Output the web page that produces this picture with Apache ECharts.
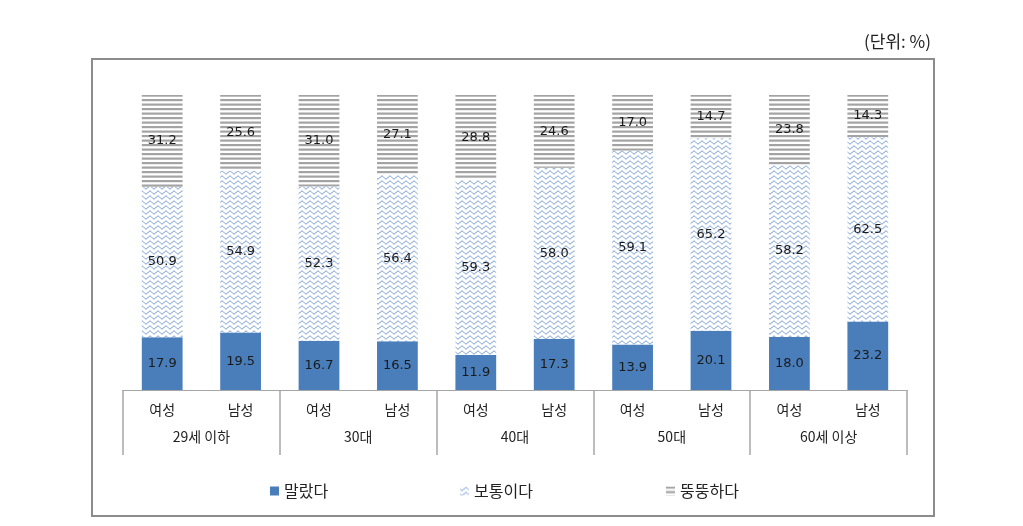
<!DOCTYPE html>
<html><head><meta charset="utf-8">
<script src="https://cdn.jsdelivr.net/npm/echarts@6/dist/echarts.min.js"></script>
<style>html,body{margin:0;padding:0;background:#fff}#c{width:1023px;height:526px}</style>
</head><body><div id="c"></div>
<script>
const genders = ['여성','남성','여성','남성','여성','남성','여성','남성','여성','남성'];
const groups = ['29세 이하','30대','40대','50대','60세 이상'];
const seriesNames = ['말랐다','보통이다','뚱뚱하다'];
const thin = [17.9, 19.5, 16.7, 16.5, 11.9, 17.3, 13.9, 20.1, 18.0, 23.2];
const normal = [50.9, 54.9, 52.3, 56.4, 59.3, 58.0, 59.1, 65.2, 58.2, 62.5];
const fat = [31.2, 25.6, 31.0, 27.1, 28.8, 24.6, 17.0, 14.7, 23.8, 14.3];
const unitText = '(단위: %)';

function wavePattern(){
  const c = document.createElement('canvas');
  c.width = 8; c.height = 5;
  const g = c.getContext('2d');
  g.fillStyle = '#ffffff'; g.fillRect(0,0,8,5);
  g.strokeStyle = '#5f8dcf'; g.lineWidth = 1;
  g.beginPath();
  for (let x = 0; x <= 8; x += 0.5) {
    const y = 2.5 + 1.4 * Math.sin(x / 8 * Math.PI * 2);
    if (x === 0) g.moveTo(x, y); else g.lineTo(x, y);
  }
  g.stroke();
  return c;
}
function stripePattern(){
  const c = document.createElement('canvas');
  c.width = 8; c.height = 9;
  const g = c.getContext('2d');
  g.fillStyle = '#ffffff'; g.fillRect(0,0,8,9);
  g.fillStyle = '#a3a3a3';
  g.fillRect(0,0,8,2.2);
  g.fillRect(0,4.5,8,2.2);
  return c;
}
const colors = ['#4a7ebb', {image: wavePattern(), repeat:'repeat'}, {image: stripePattern(), repeat:'repeat'}];
const vals = [thin, normal, fat];
// 100% stacked: each bar is shown as share of its own total, labels keep the raw values
const totals = thin.map((v,i)=> v + normal[i] + fat[i]);

const chart = echarts.init(document.getElementById('c'), null, {renderer:'canvas'});
const numFont = 'DejaVu Sans, "Noto Sans CJK KR", sans-serif';
const krFont = '"Noto Sans CJK KR", sans-serif';
const legendLefts = [265, 455, 661];
chart.setOption({
  animation: false,
  backgroundColor: '#fff',
  grid: {left: 123, right: 116, top: 95, bottom: 136},
  legend: seriesNames.map((n,i)=>({
    left: legendLefts[i], top: 478, itemWidth: 9, itemHeight: 9, itemGap: 5, icon: 'rect',
    textStyle: {fontFamily: krFont, fontSize: 16, color: '#222'},
    data: [n]
  })),
  xAxis: [
    {type:'category', data: genders, position:'bottom',
     axisLine:{show:true, lineStyle:{color:'#a6a6a6', width:1}},
     axisTick:{show:false},
     axisLabel:{margin:13, fontFamily: krFont, fontSize:14, color:'#222', interval:0}},
    {type:'category', data: groups, position:'bottom',
     axisLine:{show:true, lineStyle:{color:'#a6a6a6', width:1}},
     axisTick:{show:true, length:65, interval:0, lineStyle:{color:'#a6a6a6', width:1.5}},
     axisLabel:{margin:40, fontFamily: krFont, fontSize:14, color:'#222', interval:0}}
  ],
  yAxis: {type:'value', min:0, max:100, show:false},
  series: seriesNames.map((n,i)=>({
    name: n, type:'bar', stack:'s', barWidth:'52%', xAxisIndex:0,
    data: vals[i].map((v,j)=>({value: v / totals[j] * 100, raw: v})),
    itemStyle: {color: colors[i]},
    label: {show:true, position:'inside', formatter: p => p.data.raw.toFixed(1),
      fontFamily: numFont, fontSize: 13, color:'#1a1a1a'}
  })),
  graphic: [
    {type:'rect', shape:{x:92, y:59, width:842, height:457},
     style:{fill:'none', stroke:'#8c8c8c', lineWidth:2}, silent:true},
    {type:'text', right: 92, top: 33,
     style:{text: unitText, font:'17px "Noto Sans CJK KR", sans-serif', fill:'#222'}}
  ]
});
</script></body></html>
